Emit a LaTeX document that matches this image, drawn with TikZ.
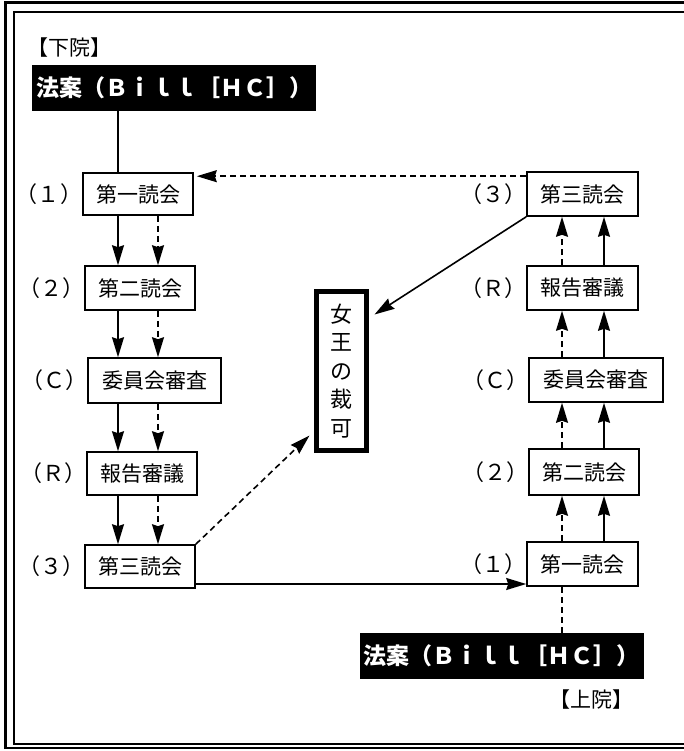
\documentclass[tikz,border=0pt]{standalone}
\usepackage{fontspec}
\setmainfont{Noto Sans CJK JP}
\usetikzlibrary{arrows.meta}
\begin{document}
\begin{tikzpicture}[x=1pt,y=-1pt,
  >={Stealth[length=20pt,width=12pt,inset=2pt]},
  box/.style={draw,line width=1.6pt,inner sep=0pt,minimum height=44pt,font=\fontsize{21}{21}\selectfont},
  lab/.style={anchor=east,inner sep=0pt,font=\fontsize{22}{22}\selectfont},
  arr/.style={line width=1.6pt,->},
  dsh/.style={dash pattern=on 6pt off 4pt},
  plain/.style={line width=1.6pt},
  bill/.style={fill=black,text=white,inner sep=0pt,minimum width=284pt,minimum height=46pt,font=\fontsize{23}{23}\selectfont\bfseries},
  house/.style={inner sep=0pt,font=\fontsize{21}{21}\selectfont}]
\useasboundingbox (0,0) rectangle (684,751);
\clip (0,0) rectangle (684,751);
% frame
\draw[line width=3.5pt] (5.5,749) -- (5.5,2.5) -- (700,2.5);
\draw[line width=2pt] (5.5,747.5) -- (700,747.5);
\draw[line width=2pt] (700,743.5) -- (13.5,743.5) -- (13.5,12.5) -- (700,12.5);
% column coordinates
\coordinate (cs) at (118,0);
\coordinate (cd) at (158,0);
\coordinate (rd) at (562,0);
\coordinate (rs) at (604,0);
\coordinate (hy) at (0,584);
% left column
\node[house] (H1) at (69,48) {【下院】};
\node[bill] (B1) at (174,88) {法案（Ｂｉｌｌ［ＨＣ］）};
\node[box,minimum width=110pt,minimum height=42pt] (L1) at (138,194) {第一読会};
\node[box,minimum width=110pt] (L2) at (140,288) {第二読会};
\node[box,minimum width=133pt,minimum height=45pt] (LC) at (154.5,380.5) {委員会審査};
\node[box,minimum width=110pt,minimum height=43pt] (LR) at (142,473.5) {報告審議};
\node[box,minimum width=110pt,minimum height=43pt] (L3) at (140,566.5) {第三読会};
\node[lab] (l1) at (L1.west) {（１）};
\node[lab] (l2) at (L2.west) {（２）};
\node[lab] (lc) at (LC.west) {（Ｃ）};
\node[lab] (lr) at (LR.west) {（Ｒ）};
\node[lab] (l3) at (L3.west) {（３）};
% right column
\node[box,minimum width=111pt] (R3) at (582.5,194) {第三読会};
\node[box,minimum width=111pt] (RR) at (582.5,288) {報告審議};
\node[box,minimum width=134pt] (RC) at (596,380) {委員会審査};
\node[box,minimum width=110pt,minimum height=46pt] (R2) at (584,472) {第二読会};
\node[box,minimum width=111pt] (R1) at (582.5,564) {第一読会};
\node[lab] (r3) at (R3.west) {（３）};
\node[lab] (rr) at (RR.west) {（Ｒ）};
\node[lab] (rc) at (RC.west) {（Ｃ）};
\node[lab] (r2) at (R2.west) {（２）};
\node[lab] (r1) at (R1.west) {（１）};
\node[bill] (B2) at (501.5,656) {法案（Ｂｉｌｌ［ＨＣ］）};
\node[house] (H2) at (591,700) {【上院】};
% queen
\node[draw,line width=5pt,minimum width=50pt,minimum height=159pt,inner sep=0pt,align=center,font=\fontsize{22}{28.5}\selectfont] (Q) at (341.5,371) {女\\王\\の\\裁\\可};
% connectors left
\draw[plain] (B1.south -| cs) -- (L1.north -| cs);
\draw[arr] (L1.south -| cs) -- (L2.north -| cs);
\draw[arr,dsh] (L1.south -| cd) -- (L2.north -| cd);
\draw[arr] (L2.south -| cs) -- (LC.north -| cs);
\draw[arr,dsh] (L2.south -| cd) -- (LC.north -| cd);
\draw[arr] (LC.south -| cs) -- (LR.north -| cs);
\draw[arr,dsh] (LC.south -| cd) -- (LR.north -| cd);
\draw[arr] (LR.south -| cs) -- (L3.north -| cs);
\draw[arr,dsh] (LR.south -| cd) -- (L3.north -| cd);
% connectors right
\draw[plain,dsh] (R1.south -| rd) -- (B2.north -| rd);
\draw[arr,dsh] (R1.north -| rd) -- (R2.south -| rd);
\draw[arr] (R1.north -| rs) -- (R2.south -| rs);
\draw[arr,dsh] (R2.north -| rd) -- (RC.south -| rd);
\draw[arr] (R2.north -| rs) -- (RC.south -| rs);
\draw[arr,dsh] (RC.north -| rd) -- (RR.south -| rd);
\draw[arr] (RC.north -| rs) -- (RR.south -| rs);
\draw[arr,dsh] (RR.north -| rd) -- (R3.south -| rd);
\draw[arr] (RR.north -| rs) -- (R3.south -| rs);
% cross connectors
\draw[arr] (L3.east |- hy) -- (R1.west |- hy);
\draw[arr,dsh] ([shift={(0,5)}]R3.north west) -- ([shift={(3,4)}]L1.north east);
\draw[arr,dsh] (L3.north east) -- ([shift={(-4.5,-17.5)}]Q.south west);
\draw[arr] (R3.south west) -- ([shift={(5.5,25.5)}]Q.north east);
\end{tikzpicture}
\end{document}
